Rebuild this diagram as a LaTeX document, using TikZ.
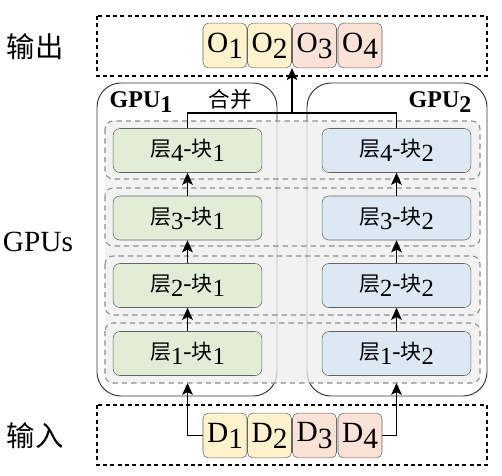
\documentclass[tikz,border=0pt]{standalone}
\usepackage{fontspec}
\setmainfont{Liberation Serif}
\newfontfamily\cjk[Scale=0.85]{Noto Sans CJK SC}
\usepackage{tikz}
\usetikzlibrary{positioning, arrows.meta}
\definecolor{BlkGreen}{RGB}{226,237,216}
\definecolor{BlkBlue}{RGB}{221,232,245}
\definecolor{DatYellow}{RGB}{255,242,204}
\definecolor{DatPink}{RGB}{250,227,214}
\definecolor{RowGray}{RGB}{238,238,238}
\definecolor{EdgeGray}{RGB}{100,100,100}
\newcommand{\low}[1]{\raisebox{-0.45ex}{#1}}
\newcommand{\layerblk}[2]{{\cjk 层}\low{#1}-{\cjk 块}\low{#2}}

\begin{document}
\begin{tikzpicture}[x=0.75pt, y=-0.75pt,
          blk/.style={rectangle, draw=EdgeGray, rounded corners=5pt,
                      minimum width=111.5pt, minimum height=33pt,
                      inner sep=0pt, font=\fontsize{18.5}{20}\selectfont},
          dat/.style={rectangle, draw=EdgeGray, rounded corners=4pt,
                      minimum width=33pt, minimum height=33.5pt,
                      inner sep=0pt, font=\fontsize{22}{24}\selectfont},
          frame/.style={draw, line width=0.9pt, dash pattern=on 3pt off 2.5pt},
          row/.style={draw=gray!90, line width=0.8pt, rounded corners=6pt,
                      dash pattern=on 4pt off 3pt},
          gpu/.style={draw=black!80, line width=0.7pt, rounded corners=18pt},
          side/.style={font=\fontsize{22}{24}\selectfont},
          arr/.style={-{Stealth[length=9pt, width=8pt, inset=2pt]}, line width=0.9pt}
        ]
        \useasboundingbox (0,0) rectangle (502,475);

        % GPU boxes
        \draw[gpu] (97,83) rectangle (277,396);
        \draw[gpu] (307,83) rectangle (487,396);

        % Data blocks (input and output)
        \foreach \i/\x/\c in {1/225/DatYellow, 2/269.5/DatYellow,
                              3/314.5/DatPink, 4/360/DatPink} {
          \node[dat, fill=\c] (o\i) at (\x, 45.5) {O\low{\i}};
          \node[dat, fill=\c] (d\i) at (\x, 435.5) {D\low{\i}};
        }

        % Layer blocks
        \foreach \i/\y in {1/353.5, 2/285.5, 3/218, 4/150.5} {
          \coordinate (g\i) at (187.5, \y);
          \coordinate (b\i) at (396.5, \y);
        }

        % Input arrows (under the gray band)
        \draw[arr] (d1.west) -| ([yshift=-22pt]g1);
        \draw[arr] (d4.east) -| ([yshift=-22pt]b1);

        % Gray band and rows
        \fill[RowGray, fill opacity=0.75, rounded corners=6pt] (105,121) rectangle (480,383);
        \foreach \t/\b in {121/179, 188/246, 256/315, 323/383} {
          \draw[row] (105,\t) rectangle (480,\b);
        }

        \foreach \i in {1,...,4} {
          \node[blk, fill=BlkGreen] (ga\i) at (g\i) {\layerblk{\i}{1}};
          \node[blk, fill=BlkBlue]  (gb\i) at (b\i) {\layerblk{\i}{2}};
        }
        \foreach \i/\j in {1/2, 2/3, 3/4} {
          \draw[arr] (ga\i.north) -- (ga\j.south);
          \draw[arr] (gb\i.north) -- (gb\j.south);
        }

        % Merge
        \coordinate (merge) at (292,113);
        \draw[line width=0.9pt] (ga4.north) |- (merge) -| (gb4.north);
        \draw[arr] (merge) -- (merge |- o2.south);
        \node[font=\fontsize{19}{20}\selectfont\cjk] (mlab) at (230,99) {合并};
        \node[font=\fontsize{18}{20}\selectfont\bfseries] (gpu1) at (141,102) {GPU\low{1}};
        \node[font=\fontsize{18}{20}\selectfont\bfseries] (gpu2) at (440,102) {GPU\low{2}};

        % Dashed frames
        \draw[frame] (97,16) rectangle (487,76);
        \draw[frame] (97,405) rectangle (487,465);

        % Side labels
        \node[side, font=\fontsize{25}{26}\selectfont\cjk] (outlab) at (35,47) {输出};
        \node[side] (gpulab) at (38,242) {GPUs};
        \node[side, font=\fontsize{25}{26}\selectfont\cjk] (inlab) at (35,436) {输入};
      \end{tikzpicture}
\end{document}
